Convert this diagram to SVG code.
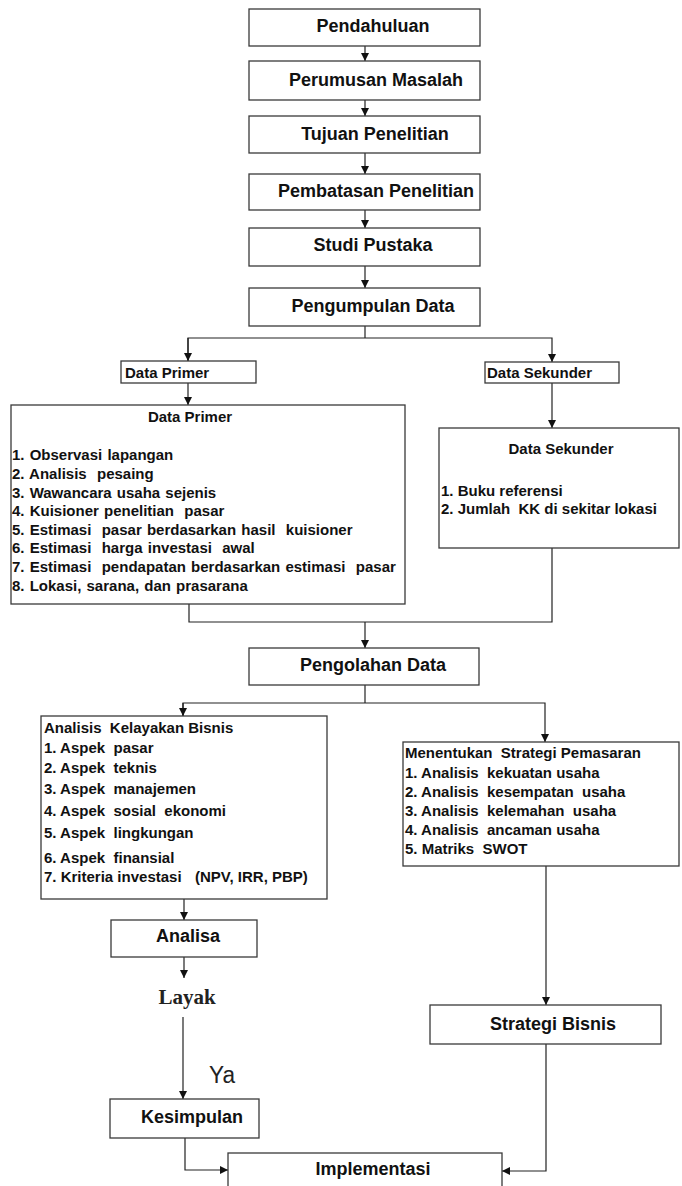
<svg xmlns="http://www.w3.org/2000/svg" width="682" height="1186" viewBox="0 0 682 1186">
<defs>
<style>
.box{fill:#fff;stroke:#3a3a3a;stroke-width:1.3}
.ln{fill:none;stroke:#222;stroke-width:1.2}
.t18{font-family:"Liberation Sans",Arial,sans-serif;font-weight:bold;font-size:18px;fill:#111;text-anchor:middle}
.t15{font-family:"Liberation Sans",Arial,sans-serif;font-weight:bold;font-size:15px;fill:#111;white-space:pre}
.c{text-anchor:middle}
.dp{word-spacing:1px}
</style>
<marker id="ah" markerUnits="userSpaceOnUse" markerWidth="8" markerHeight="8" refX="8" refY="4" orient="auto">
<path d="M0,0 L8,4 L0,8 z" fill="#111"/>
</marker>
</defs>
<rect width="682" height="1186" fill="#fff"/>

<g id="connectors">
<line class="ln" x1="365" y1="46" x2="365" y2="61" marker-end="url(#ah)"/>
<line class="ln" x1="365" y1="100" x2="365" y2="116" marker-end="url(#ah)"/>
<line class="ln" x1="365" y1="153" x2="365" y2="174" marker-end="url(#ah)"/>
<line class="ln" x1="365" y1="210" x2="365" y2="228" marker-end="url(#ah)"/>
<line class="ln" x1="365" y1="266" x2="365" y2="288" marker-end="url(#ah)"/>
<polyline class="ln" points="365,326 365,338"/>
<polyline class="ln" points="188,361 188,338 552,338 552,362" marker-end="url(#ah)"/>
<line class="ln" x1="188" y1="338" x2="188" y2="361" marker-end="url(#ah)"/>
<line class="ln" x1="188" y1="383" x2="188" y2="405" marker-end="url(#ah)"/>
<line class="ln" x1="552" y1="383" x2="552" y2="428" marker-end="url(#ah)"/>
<polyline class="ln" points="189,604 189,622 552,622 552,548"/>
<line class="ln" x1="365" y1="622" x2="365" y2="648" marker-end="url(#ah)"/>
<polyline class="ln" points="365,685 365,703"/>
<polyline class="ln" points="183,716 183,703 545,703 545,742" marker-end="url(#ah)"/>
<line class="ln" x1="183" y1="703" x2="183" y2="716" marker-end="url(#ah)"/>
<line class="ln" x1="184" y1="899" x2="184" y2="920" marker-end="url(#ah)"/>
<line class="ln" x1="184" y1="957" x2="184" y2="978" marker-end="url(#ah)"/>
<line class="ln" x1="183" y1="1017" x2="183" y2="1099" marker-end="url(#ah)"/>
<polyline class="ln" points="185,1138 185,1170 228,1170" marker-end="url(#ah)"/>
<line class="ln" x1="546" y1="866" x2="546" y2="1005" marker-end="url(#ah)"/>
<polyline class="ln" points="546,1044 546,1171 502,1171" marker-end="url(#ah)"/>
<text x="209" y="1083" font-family="Liberation Sans,Arial,sans-serif" font-size="23" fill="#222" textLength="26" lengthAdjust="spacingAndGlyphs">Ya</text>
</g>

<g id="pendahuluan">
<rect class="box" x="249" y="9" width="231" height="37"/>
<text class="t18" x="373" y="32">Pendahuluan</text>
</g>
<g id="perumusan">
<rect class="box" x="249" y="61" width="231" height="39"/>
<text class="t18" x="376" y="86">Perumusan Masalah</text>
</g>
<g id="tujuan">
<rect class="box" x="249" y="116" width="231" height="37"/>
<text class="t18" x="375" y="140">Tujuan Penelitian</text>
</g>
<g id="pembatasan">
<rect class="box" x="249" y="174" width="231" height="36"/>
<text class="t18" x="376" y="197">Pembatasan Penelitian</text>
</g>
<g id="studi">
<rect class="box" x="249" y="228" width="231" height="38"/>
<text class="t18" x="373" y="251">Studi Pustaka</text>
</g>
<g id="pengumpulan">
<rect class="box" x="249" y="288" width="231" height="38"/>
<text class="t18" x="373" y="312">Pengumpulan Data</text>
</g>

<g id="dataprimer-label">
<rect class="box" x="121" y="361" width="135" height="22"/>
<text class="t15" x="125" y="378">Data Primer</text>
</g>
<g id="datasekunder-label">
<rect class="box" x="485" y="362" width="134" height="21"/>
<text class="t15" x="487" y="378">Data Sekunder</text>
</g>

<g id="dataprimer">
<rect class="box" x="11" y="405" width="394" height="199"/>
<text class="t15 c" x="190" y="422">Data Primer</text>
<text class="t15 dp" x="12" y="460">1. Observasi lapangan</text>
<text class="t15 dp" x="12" y="479">2. Analisis  pesaing</text>
<text class="t15 dp" x="12" y="498">3. Wawancara usaha sejenis</text>
<text class="t15 dp" x="12" y="516">4. Kuisioner penelitian  pasar</text>
<text class="t15 dp" x="12" y="535">5. Estimasi  pasar berdasarkan hasil  kuisioner</text>
<text class="t15 dp" x="12" y="553">6. Estimasi  harga investasi  awal</text>
<text class="t15 dp" x="12" y="572">7. Estimasi  pendapatan berdasarkan estimasi  pasar</text>
<text class="t15 dp" x="12" y="591">8. Lokasi, sarana, dan prasarana</text>
</g>

<g id="datasekunder">
<rect class="box" x="439" y="428" width="240" height="120"/>
<text class="t15 c" x="561" y="454">Data Sekunder</text>
<text class="t15" x="441" y="496">1. Buku referensi</text>
<text class="t15" x="441" y="514">2. Jumlah  KK di sekitar lokasi</text>
</g>

<g id="pengolahan">
<rect class="box" x="249" y="648" width="230" height="37"/>
<text class="t18" x="373" y="671">Pengolahan Data</text>
</g>

<g id="analisis">
<rect class="box" x="41" y="716" width="286" height="183"/>
<text class="t15" x="44" y="733">Analisis  Kelayakan Bisnis</text>
<text class="t15" x="44" y="753">1. Aspek  pasar</text>
<text class="t15" x="44" y="773">2. Aspek  teknis</text>
<text class="t15" x="44" y="794">3. Aspek  manajemen</text>
<text class="t15" x="44" y="816">4. Aspek  sosial  ekonomi</text>
<text class="t15" x="44" y="838">5. Aspek  lingkungan</text>
<text class="t15" x="44" y="863">6. Aspek  finansial</text>
<text class="t15" x="44" y="882">7. Kriteria investasi<tspan x="195">(NPV, IRR, PBP)</tspan></text>
</g>

<g id="strategi-pemasaran">
<rect class="box" x="403" y="742" width="276" height="124"/>
<text class="t15" x="405" y="758">Menentukan  Strategi Pemasaran</text>
<text class="t15" x="405" y="778">1. Analisis  kekuatan usaha</text>
<text class="t15" x="405" y="797">2. Analisis  kesempatan  usaha</text>
<text class="t15" x="405" y="816">3. Analisis  kelemahan  usaha</text>
<text class="t15" x="405" y="835">4. Analisis  ancaman usaha</text>
<text class="t15" x="405" y="854">5. Matriks  SWOT</text>
</g>

<g id="analisa">
<rect class="box" x="111" y="920" width="146" height="37"/>
<text class="t18" x="188" y="942">Analisa</text>
</g>

<g id="layak">
<text x="187" y="1004" font-family="Liberation Serif,Times New Roman,serif" font-weight="bold" font-size="21" fill="#222" text-anchor="middle">Layak</text>
</g>

<g id="kesimpulan">
<rect class="box" x="110" y="1099" width="149" height="39"/>
<text class="t18" x="192" y="1123">Kesimpulan</text>
</g>

<g id="strategi-bisnis">
<rect class="box" x="430" y="1005" width="231" height="39"/>
<text class="t18" x="553" y="1030">Strategi Bisnis</text>
</g>

<g id="implementasi">
<rect class="box" x="228" y="1153" width="274" height="45"/>
<text class="t18" x="373" y="1175">Implementasi</text>
</g>
</svg>
